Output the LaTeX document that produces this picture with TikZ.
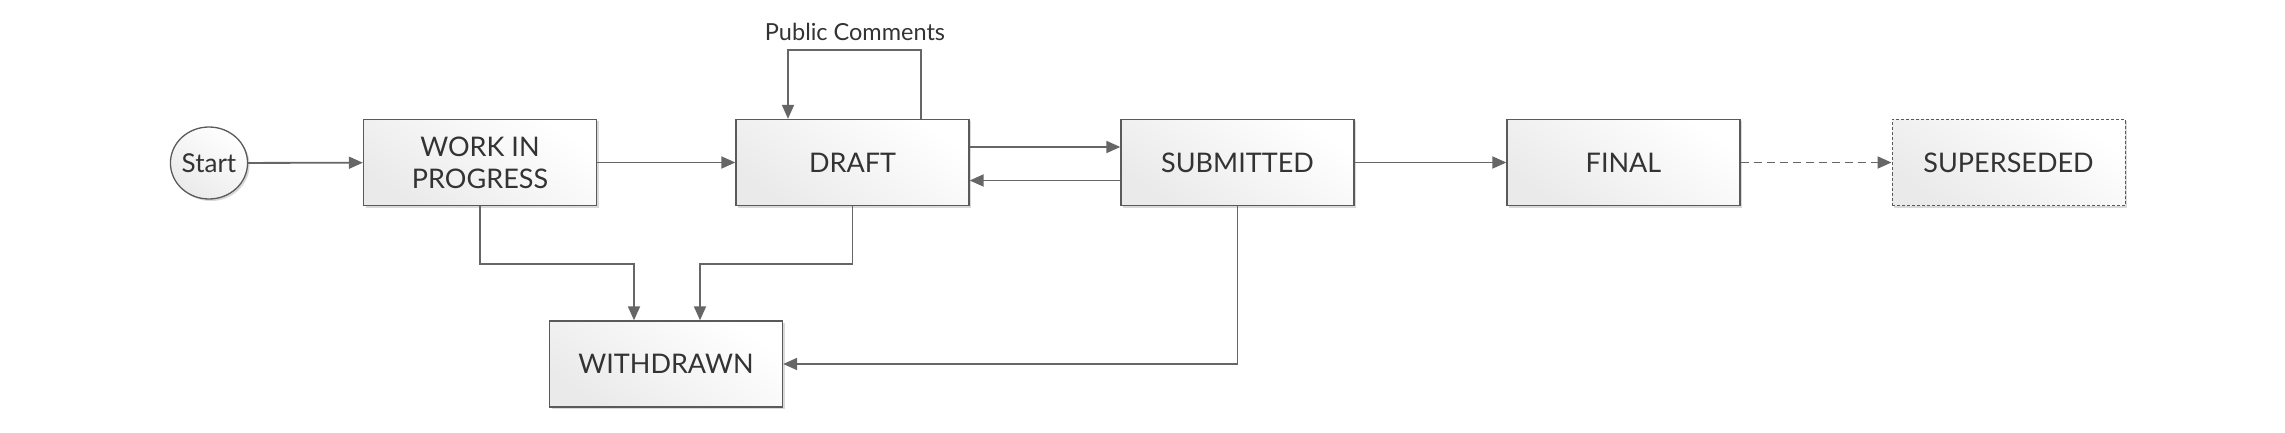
\documentclass[tikz,border=0pt]{standalone}
\usepackage{fontspec}
\setmainfont{Lato}
\usetikzlibrary{arrows.meta,shapes.geometric,shadows}
\definecolor{linegray}{RGB}{102,102,102}
\definecolor{boxborder}{RGB}{90,90,90}
\definecolor{txt}{RGB}{51,51,51}
\definecolor{fillend}{RGB}{234,234,234}
\begin{document}
\begin{tikzpicture}[x=1pt,y=-1pt,
  statebox/.style={draw=boxborder, line width=1.3pt, minimum width=233pt, minimum height=86pt,
    left color=white, right color=fillend, shading angle=-35, text=txt,
    font=\fontsize{27}{32}\selectfont, align=center, inner sep=0pt,
    drop shadow={shadow xshift=2pt, shadow yshift=-2pt, fill=black, opacity=0.15}},
  startnode/.style={ellipse, draw=boxborder, line width=1.3pt, minimum width=76pt, minimum height=72pt,
    left color=white, right color=fillend, shading angle=-35, text=txt, inner sep=0pt,
    font=\fontsize{26}{30}\selectfont,
    drop shadow={shadow xshift=2pt, shadow yshift=-2pt, fill=black, opacity=0.15}},
  arr/.style={draw=linegray, line width=1.8pt, -{Triangle[length=14pt,width=12pt]}},
  lbl/.style={text=txt, font=\fontsize{23.5}{28}\selectfont}
]
\useasboundingbox (0,0) rectangle (2285,433);
\node[startnode] (st) at (209,163) {Start};
\node[statebox] (W) at (480,162.5) {WORK IN\\PROGRESS};
\node[statebox] (D) at (852.5,162.5) {DRAFT};
\node[statebox] (S) at (1237.5,162.5) {SUBMITTED};
\node[statebox] (F) at (1623.5,162.5) {FINAL};
\node[statebox, draw=boxborder, line width=1pt, dash pattern=on 3pt off 2pt] (P) at (2008.5,162.5) {SUPERSEDED};
\node[statebox] (X) at (666,364) {WITHDRAWN};
\node[lbl] (pc) at (855,32) {Public Comments};

\draw[arr] (st) -- (W);
\draw[arr] (W) -- (D);
\draw[arr] ([yshift=15.5pt]D.east) -- ([yshift=15.5pt]S.west);
\draw[arr] ([yshift=-18pt]S.west) -- ([yshift=-18pt]D.east);
\draw[arr] (S) -- (F);
\draw[arr, dash pattern=on 8pt off 5pt] (F) -- (P);
\draw[arr] ([xshift=68.5pt]D.north) -- ++(0,-68.5) -| ([xshift=-64.5pt]D.north);
\draw[arr] (W.south) -- ++(0,58) -| ([xshift=-32pt]X.north);
\draw[arr] (D.south) -- ++(0,58) -| ([xshift=34pt]X.north);
\draw[arr] (S.south) |- (X.east);
\end{tikzpicture}
\end{document}
